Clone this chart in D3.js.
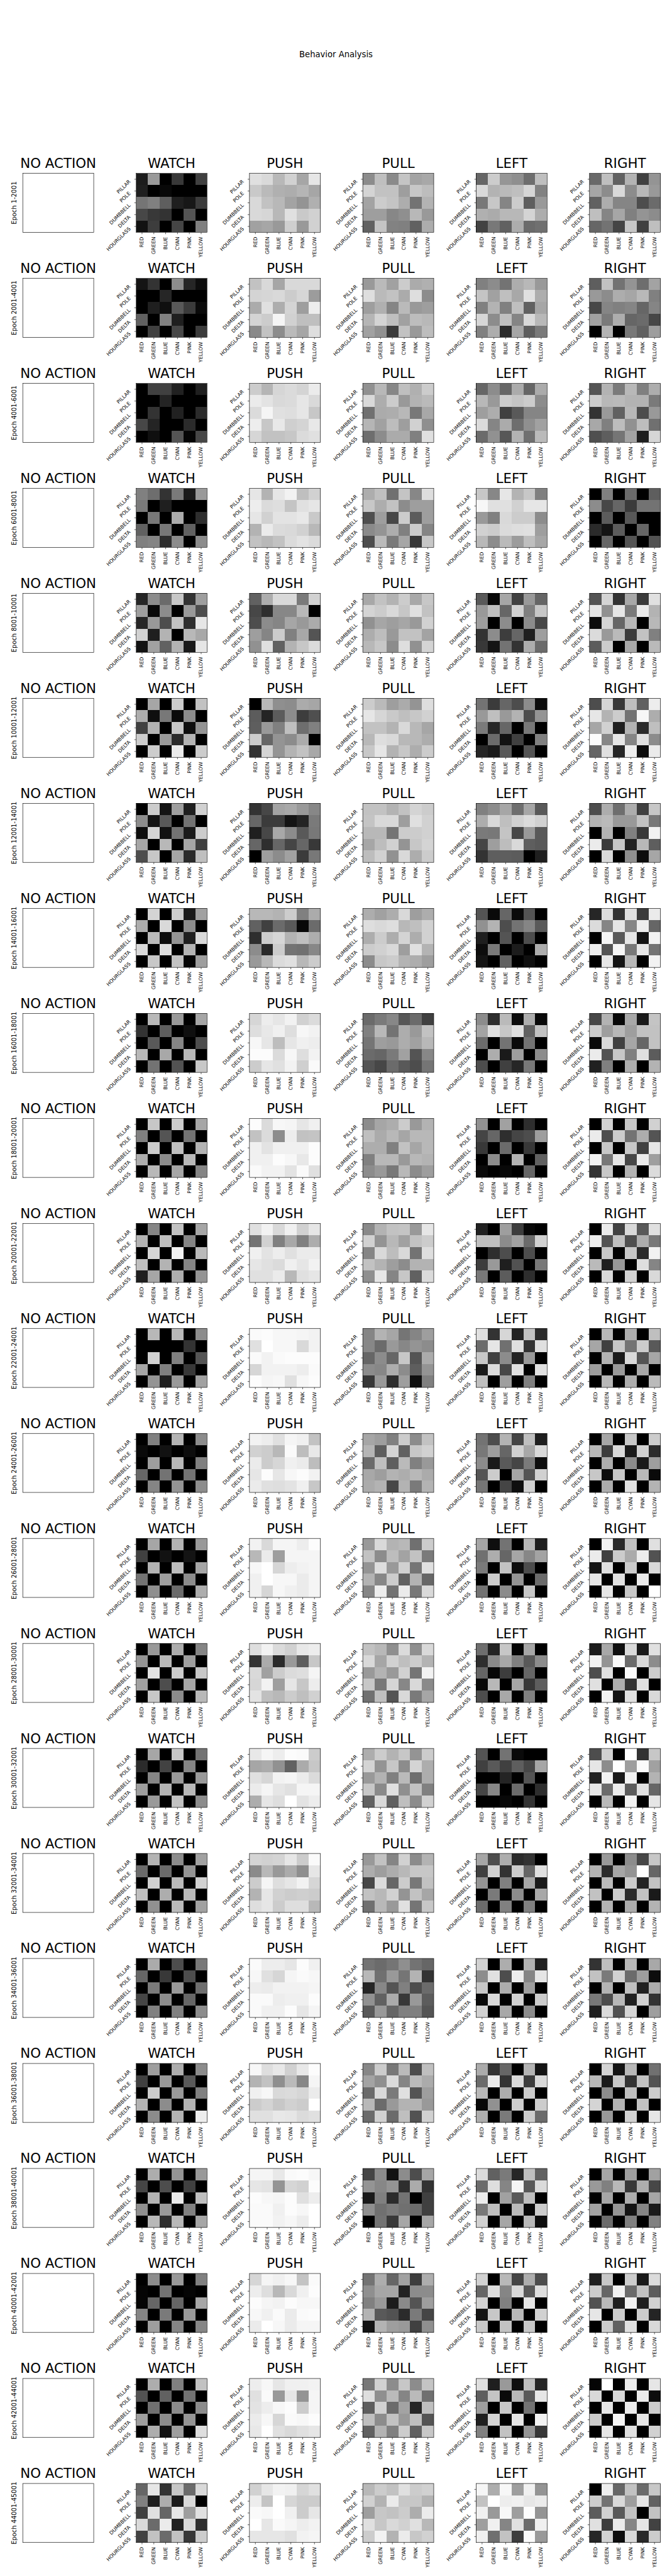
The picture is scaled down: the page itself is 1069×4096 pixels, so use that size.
<!DOCTYPE html>
<html>
<head>
<meta charset="utf-8">
<script src="https://cdn.jsdelivr.net/npm/d3@7"></script>
<style>
html,body{margin:0;padding:0;background:#fff;overflow:hidden}
svg{display:block;font-family:"DejaVu Sans",sans-serif}
</style>
</head>
<body>
<script>
const figureTitle = "Behavior Analysis";
const actions = ["NO ACTION","WATCH","PUSH","PULL","LEFT","RIGHT"];
const colorLabels = ["RED","GREEN","BLUE","CYAN","PINK","YELLOW"];
const shapeLabels = ["PILLAR","POLE","DUMBBELL","DELTA","HOURGLASS"];
const epochLabels = ["Epoch 1-2001","Epoch 2001-4001","Epoch 4001-6001","Epoch 6001-8001","Epoch 8001-10001","Epoch 10001-12001","Epoch 12001-14001","Epoch 14001-16001","Epoch 16001-18001","Epoch 18001-20001","Epoch 20001-22001","Epoch 22001-24001","Epoch 24001-26001","Epoch 26001-28001","Epoch 28001-30001","Epoch 30001-32001","Epoch 32001-34001","Epoch 34001-36001","Epoch 36001-38001","Epoch 38001-40001","Epoch 40001-42001","Epoch 42001-44001","Epoch 44001-45001"];

// Grey level (0 black .. 100 white) per epoch, read row by row: 5 shapes x 6 colours.
const watchValues = [
[11,60,0,22,0,25, 12,0,3,0,0,0, 46,50,37,12,9,23, 28,22,20,0,33,0, 7,24,0,27,0,50],
[8,20,0,55,15,5, 0,0,15,0,0,0, 0,12,6,35,23,4, 38,0,50,12,0,0, 0,25,0,28,0,23],
[0,25,25,13,0,12, 0,0,14,0,0,0, 0,20,0,13,0,17, 28,14,0,0,17,0, 0,6,0,33,2,28],
[50,43,20,48,10,60, 48,0,12,0,0,0, 0,47,0,67,0,18, 38,0,47,0,38,0, 50,52,18,55,0,55],
[15,55,42,78,20,62, 62,3,55,0,60,30, 15,60,30,76,18,90, 82,12,70,0,72,66, 7,63,38,70,10,90],
[0,65,0,80,0,76, 68,6,47,4,55,0, 25,70,0,78,6,58, 80,0,60,17,70,0, 0,80,0,92,0,80],
[0,80,8,62,12,82, 55,8,35,0,45,0, 5,83,7,45,10,80, 65,0,72,0,65,25, 30,78,0,65,17,75],
[0,83,0,80,10,63, 68,0,85,0,55,0, 0,73,5,58,12,85, 85,0,87,0,70,0, 0,78,0,76,2,62],
[0,72,0,60,0,65, 20,0,37,0,6,0, 0,35,0,52,0,30, 72,0,66,0,72,0, 0,45,0,32,0,78],
[0,78,0,80,0,65, 50,0,33,0,45,0, 0,80,0,75,0,70, 68,0,55,0,72,0, 0,72,0,65,0,52],
[0,52,0,76,0,65, 70,0,75,0,52,0, 0,84,0,95,0,73, 75,0,70,0,52,0, 12,65,0,68,0,58],
[0,72,0,72,0,55, 0,0,0,0,20,0, 0,82,0,50,0,33, 65,0,50,0,22,0, 0,58,12,60,0,63],
[0,50,0,70,0,55, 4,0,7,0,5,0, 0,62,0,72,0,50, 40,0,45,0,45,0, 0,52,0,58,0,55],
[0,65,0,70,0,60, 25,0,7,0,8,0, 0,70,0,74,0,65, 45,0,62,0,55,0, 0,56,0,42,0,68],
[0,60,0,68,0,52, 58,0,72,0,62,0, 0,89,0,80,0,78, 63,0,30,0,65,0, 0,78,0,55,0,72],
[0,65,0,78,0,45, 17,0,26,0,52,0, 0,52,0,60,0,60, 62,0,70,0,72,0, 0,60,0,76,0,55],
[0,70,0,55,0,63, 42,0,42,0,58,0, 0,82,0,73,0,82, 75,0,68,0,72,0, 0,57,0,73,0,63],
[0,67,0,30,0,47, 40,0,22,0,30,0, 0,48,0,60,0,43, 27,0,55,0,40,0, 0,50,0,50,0,55],
[0,62,0,68,0,55, 25,0,60,0,35,0, 0,80,0,60,0,50, 70,0,55,0,70,0, 0,55,0,70,0,93],
[0,68,0,58,0,60, 27,0,30,0,25,0, 0,70,0,92,0,75, 56,0,60,0,50,0, 0,72,18,72,0,65],
[0,55,0,60,0,50, 2,0,45,0,2,0, 2,40,0,40,0,65, 52,0,48,0,60,0, 0,62,0,52,0,52],
[0,68,0,50,0,76, 32,0,38,0,45,0, 0,44,0,55,0,55, 62,0,55,0,58,0, 0,68,7,62,0,87],
[40,90,20,78,42,85, 50,12,68,10,85,0, 25,88,40,90,62,88, 85,42,92,13,85,18, 26,76,42,76,22,80]
];
const pushValues = [
[88,85,72,82,65,90, 79,73,69,68,71,65, 85,76,72,64,58,69, 85,84,72,88,79,82, 63,65,60,81,60,82],
[76,85,65,85,85,85, 83,84,85,80,84,61, 67,88,68,83,62,93, 83,80,96,82,75,75, 54,76,55,73,65,87],
[80,71,84,86,83,92, 92,89,85,86,90,85, 86,96,88,87,90,78, 93,78,91,81,83,91, 84,76,76,78,86,88],
[90,70,90,95,75,82, 93,86,87,77,88,90, 90,82,89,89,91,79, 70,92,86,85,82,72, 76,72,76,86,89,86],
[38,68,85,85,48,82, 28,18,53,53,72,0, 30,55,52,65,60,67, 62,52,80,50,66,33, 57,88,38,70,78,86],
[0,72,56,55,67,65, 36,14,36,55,24,31, 37,60,50,75,43,50, 80,40,58,55,67,0, 20,83,58,70,76,66],
[20,28,64,66,60,53, 40,23,23,8,14,48, 12,28,66,55,35,47, 40,18,40,27,40,22, 0,62,55,63,23,47],
[72,72,70,80,50,67, 38,25,42,35,3,42, 18,80,84,70,75,68, 55,16,80,45,44,53, 60,72,86,88,72,80],
[84,93,90,95,82,86, 87,91,94,87,97,95, 97,90,74,90,94,93, 99,99,86,97,87,95, 80,90,88,95,81,98],
[99,86,97,96,90,94, 76,86,55,93,76,77, 94,89,94,94,94,99, 94,94,99,97,91,99, 98,95,95,89,98,88],
[88,95,85,94,82,90, 45,82,50,66,50,68, 94,89,93,88,92,92, 90,88,86,94,90,95, 88,88,92,72,88,90],
[98,99,97,97,96,95, 88,100,97,97,85,95, 98,95,98,99,99,99, 84,95,95,95,93,98, 99,96,97,88,97,99],
[95,93,88,96,94,76, 82,80,72,98,74,91, 92,80,84,94,92,74, 90,99,90,97,99,95, 92,88,87,89,94,78],
[95,85,96,96,93,99, 72,92,62,96,96,96, 97,100,84,93,95,96, 94,100,97,97,92,96, 94,84,97,94,92,96],
[87,95,86,82,91,93, 20,67,17,60,37,78, 85,63,80,86,87,96, 84,95,62,90,78,93, 89,75,72,80,75,82],
[91,96,93,99,98,80, 65,67,57,38,67,78, 88,84,95,96,92,86, 92,96,90,88,96,96, 68,90,87,100,89,93],
[83,82,83,90,80,98, 54,72,60,67,56,90, 80,96,87,90,95,84, 70,90,82,80,81,80, 87,90,80,87,87,72],
[98,93,93,90,99,94, 97,88,84,96,98,97, 93,92,95,95,95,96, 98,98,93,94,94,99, 98,94,94,99,90,96],
[97,87,91,82,91,99, 70,76,56,73,53,96, 94,97,85,86,84,92, 80,83,78,82,80,100, 88,88,91,90,86,88],
[96,96,91,98,99,97, 90,89,58,84,82,99, 99,97,96,99,88,93, 98,98,94,99,97,100, 98,98,95,97,93,100],
[84,96,94,97,77,98, 93,87,72,85,94,99, 99,96,95,99,97,97, 97,94,98,92,98,99, 92,100,97,92,96,96],
[93,97,90,94,94,95, 88,98,60,90,58,96, 89,93,97,99,80,96, 92,97,84,98,97,99, 91,100,88,85,88,90],
[82,90,95,94,84,88, 93,77,100,84,80,80, 98,97,100,94,80,90, 100,90,98,96,93,95, 90,90,90,88,95,96]
];
const pullValues = [
[55,75,54,77,64,66, 83,76,76,62,78,74, 64,80,77,68,45,70, 62,62,53,56,72,60, 38,77,51,50,38,68],
[60,73,63,80,67,69, 87,73,76,67,87,55, 62,69,52,73,60,62, 71,83,75,63,74,72, 63,57,23,76,60,74],
[57,72,53,75,69,80, 85,68,80,60,70,73, 44,67,68,72,47,66, 71,63,74,62,82,56, 43,55,67,67,50,88],
[68,75,44,77,53,87, 78,68,76,55,62,62, 31,62,28,80,36,62, 54,58,68,50,80,52, 30,73,48,65,22,78],
[66,76,70,80,66,78, 83,80,85,78,88,76, 57,65,62,65,60,82, 68,74,60,76,76,64, 72,78,55,87,57,83],
[80,73,62,67,58,87, 90,84,79,75,78,82, 76,76,70,85,72,65, 72,87,85,72,72,68, 78,90,70,78,68,80],
[76,76,70,76,83,80, 77,85,85,62,88,82, 72,72,46,80,80,82, 65,74,82,58,78,83, 74,82,57,85,68,80],
[68,63,68,85,62,68, 87,85,87,72,75,82, 68,80,68,83,68,82, 80,82,85,62,88,70, 55,78,80,70,68,62],
[42,48,53,34,42,25, 50,72,45,68,60,76, 46,62,60,68,63,72, 42,40,48,63,33,53, 33,28,42,35,30,46],
[55,65,68,80,60,70, 75,67,72,65,72,72, 68,68,50,76,65,72, 50,72,72,60,72,70, 55,60,47,72,55,62],
[54,70,76,77,60,90, 82,58,72,63,76,80, 52,85,74,85,45,87, 76,70,62,55,70,70, 56,90,52,78,38,86],
[52,70,65,46,52,62, 53,42,60,53,58,55, 40,55,40,78,33,67, 55,53,68,55,37,58, 22,60,18,62,6,50],
[65,62,50,80,55,76, 71,37,83,38,78,82, 42,75,37,73,50,60, 66,62,70,68,72,67, 67,70,28,70,48,70],
[60,85,70,72,44,80, 76,55,74,64,76,48, 58,87,60,82,46,88, 70,53,80,38,70,40, 52,93,45,92,47,85],
[76,72,56,86,56,85, 85,65,82,75,80,70, 60,70,60,82,46,95, 78,47,84,53,85,54, 44,75,33,85,48,65],
[68,80,70,78,58,80, 83,58,78,55,83,68, 60,70,50,73,43,68, 78,54,88,56,76,50, 38,85,38,75,55,82],
[60,76,52,82,55,70, 68,62,68,72,78,78, 28,86,40,80,47,76, 76,72,82,58,76,65, 44,72,60,88,46,78],
[45,42,46,56,45,40, 72,44,60,46,70,20, 15,53,33,50,30,42, 57,38,67,22,60,36, 35,60,40,50,50,33],
[53,80,47,73,30,75, 64,56,86,52,73,67, 42,85,48,88,33,62, 72,42,60,70,70,60, 42,82,42,75,32,82],
[27,55,7,55,30,65, 58,53,58,18,67,20, 10,50,17,45,0,25, 56,44,48,44,42,25, 0,45,22,65,0,65],
[45,68,40,63,24,68, 56,65,65,13,55,55, 50,60,11,54,33,62, 70,35,32,17,48,27, 8,70,62,60,25,56],
[47,82,55,78,55,77, 87,56,73,52,73,44, 37,82,42,64,15,75, 75,55,76,60,75,33, 38,70,50,80,38,78],
[72,80,76,88,80,82, 82,70,92,78,78,70, 62,78,76,80,68,92, 88,78,85,82,88,72, 80,95,70,92,78,82]
];
const leftValues = [
[40,80,59,56,43,75, 85,70,73,75,84,51, 47,78,52,80,37,60, 69,67,72,72,83,68, 26,47,38,68,42,44],
[50,55,45,68,72,60, 77,63,75,66,88,68, 50,70,50,75,38,65, 84,55,75,52,85,72, 50,68,17,65,37,48],
[40,55,40,67,40,67, 72,60,80,77,80,55, 62,68,25,35,52,52, 86,52,67,43,56,63, 42,57,34,70,44,73],
[78,53,90,70,78,50, 97,88,88,82,90,90, 60,50,85,80,80,55, 82,80,86,87,88,62, 72,55,73,61,75,65],
[35,3,65,25,60,40, 60,75,40,82,50,78, 62,0,55,0,55,28, 20,55,24,40,12,62, 22,8,45,20,68,42],
[45,23,40,30,55,5, 60,75,60,70,30,58, 48,15,40,0,47,0, 0,42,7,25,0,50, 15,10,35,0,33,0],
[50,55,65,43,65,35, 68,85,75,82,86,82, 48,47,77,28,60,35, 27,62,74,85,37,35, 20,37,37,36,0,12],
[33,4,40,4,33,0, 57,70,30,45,52,35, 12,0,33,0,30,0, 5,48,0,11,0,68, 8,0,38,0,6,0],
[55,18,73,5,68,4, 64,88,78,88,38,76, 42,0,45,4,45,0, 0,68,10,62,0,55, 30,0,25,15,47,0],
[57,0,63,0,18,0, 27,40,18,27,30,62, 22,0,42,0,22,0, 0,55,0,70,0,38, 4,0,3,0,40,0],
[13,0,62,24,3,0, 75,75,55,63,42,82, 0,18,30,0,30,0, 24,60,12,32,0,47, 47,0,36,0,18,0],
[88,20,84,14,76,17, 42,90,44,88,20,88, 78,25,55,14,60,0, 10,86,28,88,0,88, 75,0,62,0,50,0],
[45,30,70,27,75,12, 47,62,40,82,66,85, 55,10,35,27,48,5, 33,80,0,65,33,82, 46,0,27,6,82,0],
[65,6,45,0,72,12, 44,68,40,65,53,64, 48,0,76,5,30,0, 0,80,0,58,0,42, 45,0,55,0,78,0],
[43,14,78,2,65,0, 18,54,66,50,35,55, 40,3,24,0,40,0, 3,72,0,65,22,37, 30,0,66,0,50,0],
[33,0,45,4,0,0, 25,35,25,37,28,65, 0,0,14,0,33,0, 27,53,0,42,0,18, 0,0,3,0,20,0],
[65,30,68,17,20,0, 25,82,20,80,40,88, 58,0,50,0,65,10, 0,48,0,55,0,66, 42,0,50,0,50,0],
[82,0,68,0,70,13, 55,88,30,93,52,90, 78,0,68,0,62,0, 4,85,0,82,0,80, 82,0,66,0,55,0],
[67,20,40,0,70,8, 42,92,20,85,24,85, 72,0,68,0,80,0, 3,57,0,80,0,80, 68,0,48,0,80,42],
[86,38,48,15,75,38, 42,87,52,96,35,86, 92,0,63,35,75,0, 47,75,0,73,3,80, 82,0,65,0,72,5],
[82,0,72,27,68,30, 40,87,52,85,35,87, 82,0,50,0,90,0, 8,78,0,72,0,82, 78,0,76,0,78,0],
[87,12,60,6,75,15, 37,77,4,72,35,90, 62,0,78,0,45,0, 12,83,0,90,0,95, 50,0,76,0,58,22],
[96,68,97,62,94,58, 76,100,93,94,90,92, 94,60,97,62,99,58, 62,94,52,88,42,94, 94,44,76,24,98,60]
];
const rightValues = [
[41,75,38,70,25,58, 65,55,85,55,72,60, 38,68,52,52,30,42, 75,52,65,50,58,55, 40,45,27,78,25,75],
[37,76,45,58,43,64, 60,55,68,65,72,50, 28,52,50,52,40,52, 63,48,68,40,42,28, 0,70,0,47,38,62],
[33,70,48,72,50,68, 80,72,73,70,70,48, 20,60,38,72,30,60, 66,50,74,57,74,44, 31,37,46,64,12,84],
[0,50,0,42,0,37, 55,28,40,23,45,45, 0,36,0,34,0,0, 17,8,36,0,40,0, 0,40,0,33,0,32],
[33,83,20,66,23,88, 90,57,90,48,92,70, 5,83,40,72,0,72, 86,60,73,23,76,50, 36,80,0,66,0,73],
[30,84,22,75,38,93, 90,70,80,45,97,68, 65,82,12,70,17,75, 99,53,90,52,88,55, 40,88,15,93,5,92],
[30,68,43,68,25,78, 70,73,60,60,76,47, 0,70,0,50,22,95, 92,23,78,13,72,37, 0,85,0,56,5,65],
[15,87,20,88,23,92, 86,52,90,52,93,40, 0,96,35,90,8,95, 93,33,96,47,90,45, 0,90,8,72,0,95],
[28,70,3,66,10,77, 80,62,72,62,76,76, 4,85,25,65,40,76, 92,32,78,50,88,36, 13,50,0,68,0,70],
[0,82,0,78,0,82, 92,30,80,45,68,33, 0,78,0,78,25,90, 95,47,90,28,92,62, 20,78,0,70,0,86],
[0,92,26,85,35,88, 93,33,75,31,68,47, 0,78,0,78,17,95, 73,12,60,0,87,52, 0,85,0,82,0,85],
[0,72,0,68,0,75, 65,25,78,45,80,35, 0,70,10,85,33,65, 62,0,60,0,66,0, 0,72,0,68,0,73],
[0,65,0,78,0,80, 72,24,85,10,82,17, 0,68,0,55,10,62, 78,5,78,0,72,4, 0,68,0,88,0,70],
[0,95,17,76,0,88, 92,25,80,67,93,32, 8,88,0,80,0,85, 90,0,88,0,92,0, 0,90,0,78,0,100],
[11,66,6,85,10,88, 95,58,98,42,85,55, 30,88,0,98,0,80, 88,0,68,20,88,0, 0,95,7,88,0,85],
[30,82,0,100,20,78, 90,55,100,62,98,63, 13,95,10,95,0,70, 90,42,92,36,88,40, 0,72,0,95,0,90],
[0,60,0,55,28,78, 70,17,65,58,100,40, 0,73,0,80,14,76, 76,0,80,17,76,10, 0,70,0,67,0,70],
[20,75,0,72,0,66, 76,48,82,42,62,5, 0,70,0,75,13,68, 47,30,72,13,82,20, 12,86,32,84,0,62],
[0,83,8,72,0,44, 72,10,78,20,76,32, 0,55,0,75,0,80, 83,0,70,0,76,0, 0,60,0,82,0,90],
[0,65,0,62,0,63, 60,50,72,22,68,28, 0,65,0,68,0,65, 63,0,58,8,52,10, 0,42,0,50,0,50],
[12,78,0,80,10,86, 80,40,95,42,76,36, 32,73,12,95,12,82, 90,0,80,0,80,14, 0,80,38,88,0,85],
[2,100,0,92,0,90, 85,0,85,0,92,5, 0,90,0,92,0,80, 80,0,96,0,90,0, 0,90,0,88,0,82],
[0,93,40,76,42,78, 80,45,85,62,90,38, 36,82,35,76,0,76, 88,24,92,52,90,26, 15,82,5,85,16,80]
];
const actionValues = [null, watchValues, pushValues, pullValues, leftValues, rightValues];

// Layout, in reference pixels; the viewBox scales everything to the window.
const REF_W = 1800, REF_H = 6900;
const boxW = 190, boxH = 158;
const col = d3.scaleLinear().domain([0,1]).range([61, 61+303.6]);
const row = d3.scaleLinear().domain([0,1]).range([464.3, 464.3+281.27]);
const x = d3.scaleBand().domain(colorLabels).range([0,boxW]);
const y = d3.scaleBand().domain(shapeLabels).range([0,boxH]);
const grey = d3.scaleLinear().domain([0,100]).range(["#000000","#ffffff"]);
const tick = 4.86, pad = 4.86, tickFont = 13.45;

const svg = d3.select("body").append("svg")
  .attr("width",1069).attr("height",4096)
  .attr("viewBox",`0 0 ${REF_W} ${REF_H}`)
  .attr("preserveAspectRatio","none");

svg.append("text").attr("x",900).attr("y",154)
  .attr("text-anchor","middle").attr("font-size",22.2).attr("fill","#000").text(figureTitle);

epochLabels.forEach((label,r)=>{
  actions.forEach((action,c)=>{
    const g = svg.append("g").attr("transform",`translate(${col(c)},${row(r)})`);
    g.append("text").attr("x",boxW/2).attr("y",-14.5)
      .attr("text-anchor","middle").attr("font-size",36).attr("fill","#000").text(action);
    const vals = actionValues[c];
    if(vals){
      const cells = d3.cross(shapeLabels,colorLabels).map(([s,k],i)=>({s,k,v:vals[r][i]}));
      g.selectAll("rect.cell").data(cells).join("rect").attr("class","cell")
        .attr("x",d=>x(d.k)).attr("y",d=>y(d.s))
        .attr("width",x.bandwidth()).attr("height",y.bandwidth())
        .attr("fill",d=>grey(d.v)).attr("shape-rendering","crispEdges");
      const ax = g.append("g").attr("transform",`translate(0,${boxH})`)
        .call(d3.axisBottom(x).tickSize(tick).tickPadding(pad).offset(0));
      ax.select(".domain").remove();
      ax.selectAll("line").attr("stroke","#000").attr("stroke-width",1.1);
      ax.selectAll("text").attr("y",null).attr("dy",null)
        .attr("text-anchor","end").attr("dominant-baseline","central")
        .attr("font-size",tickFont).attr("font-family",'"DejaVu Sans"').attr("fill","#000")
        .attr("transform",`translate(0,${tick+pad+2.4}) rotate(-90)`);
      const ay = g.append("g")
        .call(d3.axisLeft(y).tickSize(tick).tickPadding(pad).offset(0));
      ay.select(".domain").remove();
      ay.selectAll("line").attr("stroke","#000").attr("stroke-width",1.1);
      ay.selectAll("text").attr("x",null).attr("dy",null)
        .attr("text-anchor","end")
        .attr("font-size",tickFont).attr("font-family",'"DejaVu Sans"').attr("fill","#000")
        .attr("transform",`translate(${-(tick+pad)-4.3},7.2) rotate(-45)`);
    } else {
      g.append("text").attr("transform",`translate(-17,${boxH/2}) rotate(-90)`)
        .attr("text-anchor","middle").attr("font-size",16.67).attr("fill","#000").text(label);
    }
    g.append("rect").attr("width",boxW).attr("height",boxH)
      .attr("fill","none").attr("stroke","#000").attr("stroke-width",1.1);
  });
});
</script>
</body>
</html>
